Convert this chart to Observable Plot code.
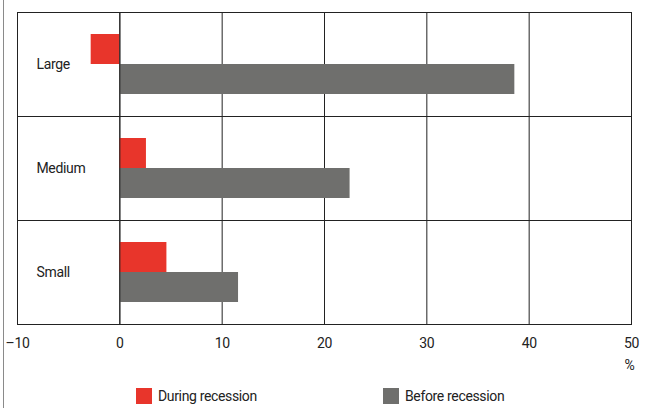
<!DOCTYPE html>
<html><head><meta charset="utf-8">
<script src="https://cdn.jsdelivr.net/npm/d3@7"></script>
<script src="https://cdn.jsdelivr.net/npm/@observablehq/plot@0.6"></script>
<style>
body{margin:0;background:#fff;font-family:Roboto,"Liberation Sans",sans-serif;}
#wrap{position:relative;width:645px;height:408px;overflow:hidden;}
#edge{position:absolute;left:3px;top:0;bottom:0;border-left:1px solid #8a8a8a;}
#legend{position:relative;height:38px;font-size:14px;color:#222;letter-spacing:-0.35px;}
.item{position:absolute;top:18px;display:flex;align-items:center;line-height:16px;}
.sw{width:16px;height:16px;margin-right:6px;}
</style></head><body>
<div id="wrap"><div id="chart"></div><div id="legend"></div><div id="edge"></div></div>
<script>
const categories = ["Large","Medium","Small"];
const seriesNames = ["During recession","Before recession"];
const during = [-2.8, 2.6, 4.6];
const before = [38.6, 22.5, 11.6];
const xTicks = [-10,0,10,20,30,40,50];
const xTickLabels = ["–10","0","10","20","30","40","50"];
const unitLabel = "%";
const colors = ["#e8352b","#6f6f6d"];
const legendLeft = [136, 383];

const rows = categories.flatMap((c,i)=>[
  {category:c, series:seriesNames[0], value:during[i]},
  {category:c, series:seriesNames[1], value:before[i]}
]);
const font = 'Roboto,"Liberation Sans",sans-serif';
const chart = Plot.plot({
  width:645, height:370, marginTop:11, marginBottom:46, marginLeft:17, marginRight:14,
  style:{fontFamily:font, fontSize:"14px", color:"#222", background:"transparent", letterSpacing:"-0.35px", overflow:"visible"},
  x:{domain:[-10,50], ticks:xTicks, tickFormat:d=>xTickLabels[xTicks.indexOf(d)], tickSize:0, tickPadding:14, label:null},
  fy:{domain:categories, padding:0, axis:null},
  y:{domain:seriesNames, padding:0, paddingOuter:0.733, axis:null},
  color:{domain:seriesNames, range:colors},
  marks:[
    Plot.ruleX(xTicks,{stroke:"#222", strokeOpacity:1}),
    Plot.barX(rows,{fy:"category", y:"series", x:"value", fill:"series"}),
    Plot.ruleX([0],{stroke:"#222", strokeOpacity:1}),
    Plot.frame({stroke:"#222", strokeOpacity:1}),
    Plot.text(categories,{fy:d=>d, text:d=>d, frameAnchor:"left", dx:19, textAnchor:"start", fontSize:14, fill:"#222"}),
    Plot.text([unitLabel],{fy:[categories[categories.length-1]], text:d=>d, frameAnchor:"bottom-right", textAnchor:"end", dx:3, dy:45, fontSize:14, fill:"#222"})
  ]
});
document.getElementById("chart").appendChild(chart);
const lg = document.getElementById("legend");
seriesNames.forEach((s,i)=>{
  const it = document.createElement("div");
  it.className="item"; it.style.left = legendLeft[i]+"px";
  const sw = document.createElement("div"); sw.className="sw"; sw.style.background = colors[i];
  const t = document.createElement("span"); t.textContent = s;
  it.appendChild(sw); it.appendChild(t); lg.appendChild(it);
});
</script></body></html>
